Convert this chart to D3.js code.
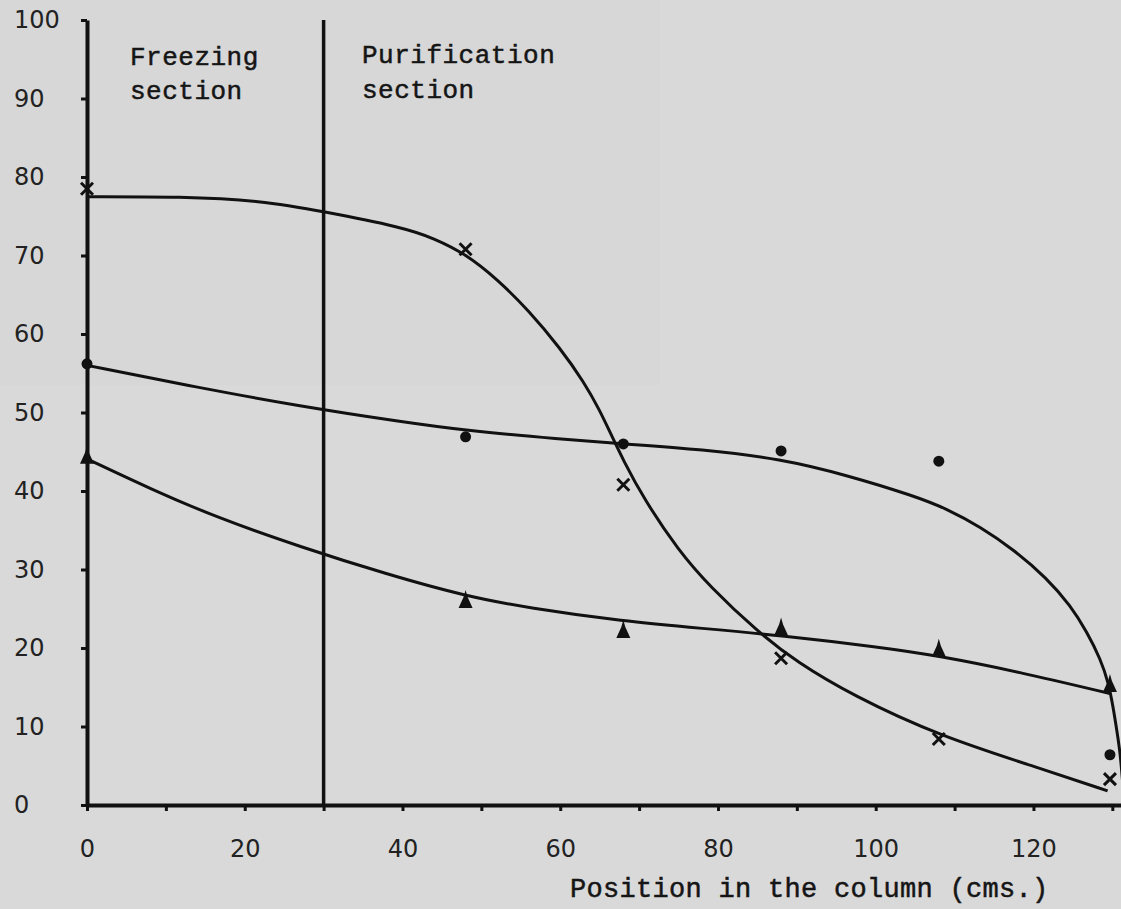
<!DOCTYPE html>
<html>
<head>
<meta charset="utf-8">
<script src="https://cdn.jsdelivr.net/npm/d3@7"></script>
<style>
  html, body { margin: 0; padding: 0; background: #d9d9d9; }
  svg { display: block; }
  .tick text { font-family: "DejaVu Sans", sans-serif; fill: #222; }
  .typed { font-family: "Liberation Mono", monospace; fill: #151515; stroke: #151515; stroke-width: 0.5px; }
</style>
</head>
<body>
<svg id="chart" width="1121" height="909"></svg>
<script>
// sampling positions (cm) where the three series were measured
var positions = [0, 48, 68, 88, 108, 129.7];
var crossValues = [78.5, 70.8, 40.8, 18.7, 8.4, 3.3];
var dotValues = [56.2, 46.9, 46.0, 45.1, 43.8, 6.4];
var triangleValues = [44.5, 26.1, 22.3, 22.6, 19.9, 15.4];

// hand-drawn curves
var crossCurveX = [0, 12, 22, 30, 40, 44, 48, 52, 56, 60, 63, 65, 66.4, 68, 70.6, 75, 79, 85, 90, 97, 108, 121.7, 129.4];
var crossCurveY = [77.5, 77.5, 77, 75.6, 73.6, 72.2, 70.2, 67.0, 63.0, 58.2, 53.9, 50.3, 47.3, 43.9, 39.0, 32.4, 27.8, 22.1, 18.2, 14.0, 8.8, 4.4, 1.8];
var dotCurveX = [0, 14, 27, 40, 48, 60, 68, 78, 88, 96.4, 104.8, 109.1, 113.3, 117.4, 121.7, 124.7, 126.8, 128.5, 129.5, 130.1, 130.6, 131, 131.3];
var dotCurveY = [56, 53.2, 50.8, 48.8, 47.7, 46.6, 46.0, 45.3, 44.1, 42.0, 39.4, 37.7, 35.4, 32.6, 28.9, 25.4, 22.0, 18.6, 15.6, 12.5, 9.3, 6.6, 3];
var triangleCurveX = [0, 8, 16.5, 27, 38, 48, 56, 68, 78, 88, 100.6, 108, 118, 129.7];
var triangleCurveY = [44.1, 40.3, 36.6, 32.9, 29.4, 26.6, 25.1, 23.4, 22.5, 21.6, 20.1, 19.0, 17.0, 14.2];

var xTicks = d3.range(0, 131, 10);
var xLabels = [0, 20, 40, 60, 80, 100, 120];
var yTicks = d3.range(0, 101, 10);
var sectionBoundary = 30;

var svg = d3.select('#chart');

var x = d3.scaleLinear().domain([0, 131.1]).range([87, 1121]);
var y = d3.scaleLinear().domain([0, 100]).range([805, 20]);

// B-spline keeps the hand-drawn curves smooth
var line = d3.line()
  .x(function(d) { return x(d[0]); })
  .y(function(d) { return y(d[1]); })
  .curve(d3.curveBasis);

function zip(a, b) { return a.map(function(v, i) { return [v, b[i]]; }); }

// background shading of the scan (upper left slightly darker)
svg.append('rect').attr('x', 0).attr('y', 0).attr('width', 660).attr('height', 385).attr('fill', '#d7d7d7');

// section divider
svg.append('line')
  .attr('x1', x(sectionBoundary)).attr('x2', x(sectionBoundary))
  .attr('y1', y(100)).attr('y2', y(0))
  .attr('stroke', '#111').attr('stroke-width', 3.5);

// curves
[[crossCurveX, crossCurveY], [dotCurveX, dotCurveY], [triangleCurveX, triangleCurveY]].forEach(function(c) {
  svg.append('path')
    .datum(zip(c[0], c[1]))
    .attr('fill', 'none')
    .attr('stroke', '#111')
    .attr('stroke-width', 3)
    .attr('d', line);
});

// markers
svg.append('g').selectAll('path.cross')
  .data(zip(positions, crossValues)).enter()
  .append('path').attr('class', 'cross')
  .attr('transform', function(d) { return 'translate(' + x(d[0]) + ',' + y(d[1]) + ')'; })
  .attr('d', 'M-6,-6L6,6M6,-6L-6,6')
  .attr('stroke', '#111').attr('stroke-width', 3).attr('fill', 'none');

svg.append('g').selectAll('circle')
  .data(zip(positions, dotValues)).enter()
  .append('circle')
  .attr('cx', function(d) { return x(d[0]); })
  .attr('cy', function(d) { return y(d[1]); })
  .attr('r', 5.5)
  .attr('fill', '#111');

svg.append('g').selectAll('path.tri')
  .data(zip(positions, triangleValues)).enter()
  .append('path').attr('class', 'tri')
  .attr('transform', function(d) { return 'translate(' + x(d[0]) + ',' + y(d[1]) + ')'; })
  .attr('d', 'M0,-10L2,-3L7,8L-7,8L-2,-3Z')
  .attr('fill', '#111');

// axes
var xAxis = svg.append('g')
  .attr('transform', 'translate(0,' + y(0) + ')')
  .call(d3.axisBottom(x).tickValues(xTicks).tickSize(6).tickSizeOuter(0)
    .tickFormat(function(d) { return xLabels.indexOf(d) >= 0 ? d : ''; }));
xAxis.select('.domain').attr('stroke', '#111').attr('stroke-width', 4);
xAxis.selectAll('.tick line').attr('stroke', '#111').attr('stroke-width', 3);
xAxis.selectAll('.tick text').attr('font-size', 24).attr('y', 35).attr('dy', '0.71em');

var yAxis = svg.append('g')
  .attr('transform', 'translate(' + x(0) + ',0)')
  .call(d3.axisLeft(y).tickValues(yTicks).tickSize(6).tickSizeOuter(0));
yAxis.select('.domain').attr('stroke', '#111').attr('stroke-width', 4);
yAxis.selectAll('.tick line').attr('stroke', '#111').attr('stroke-width', 3);
yAxis.selectAll('.tick text')
  .attr('font-size', 24)
  .attr('text-anchor', 'start')
  .attr('x', 14 - x(0));

// typed annotations
var notes = svg.append('g').attr('class', 'typed').attr('font-size', 26).attr('letter-spacing', 0.5);
notes.append('text').attr('x', 130).attr('y', 65).text('Freezing');
notes.append('text').attr('x', 130).attr('y', 99).text('section');
notes.append('text').attr('x', 362).attr('y', 63).text('Purification');
notes.append('text').attr('x', 362).attr('y', 98).text('section');

svg.append('text').attr('class', 'typed')
  .attr('x', 570).attr('y', 897)
  .attr('font-size', 27).attr('letter-spacing', 0.3)
  .text('Position in the column (cms.)');
</script>
</body>
</html>
